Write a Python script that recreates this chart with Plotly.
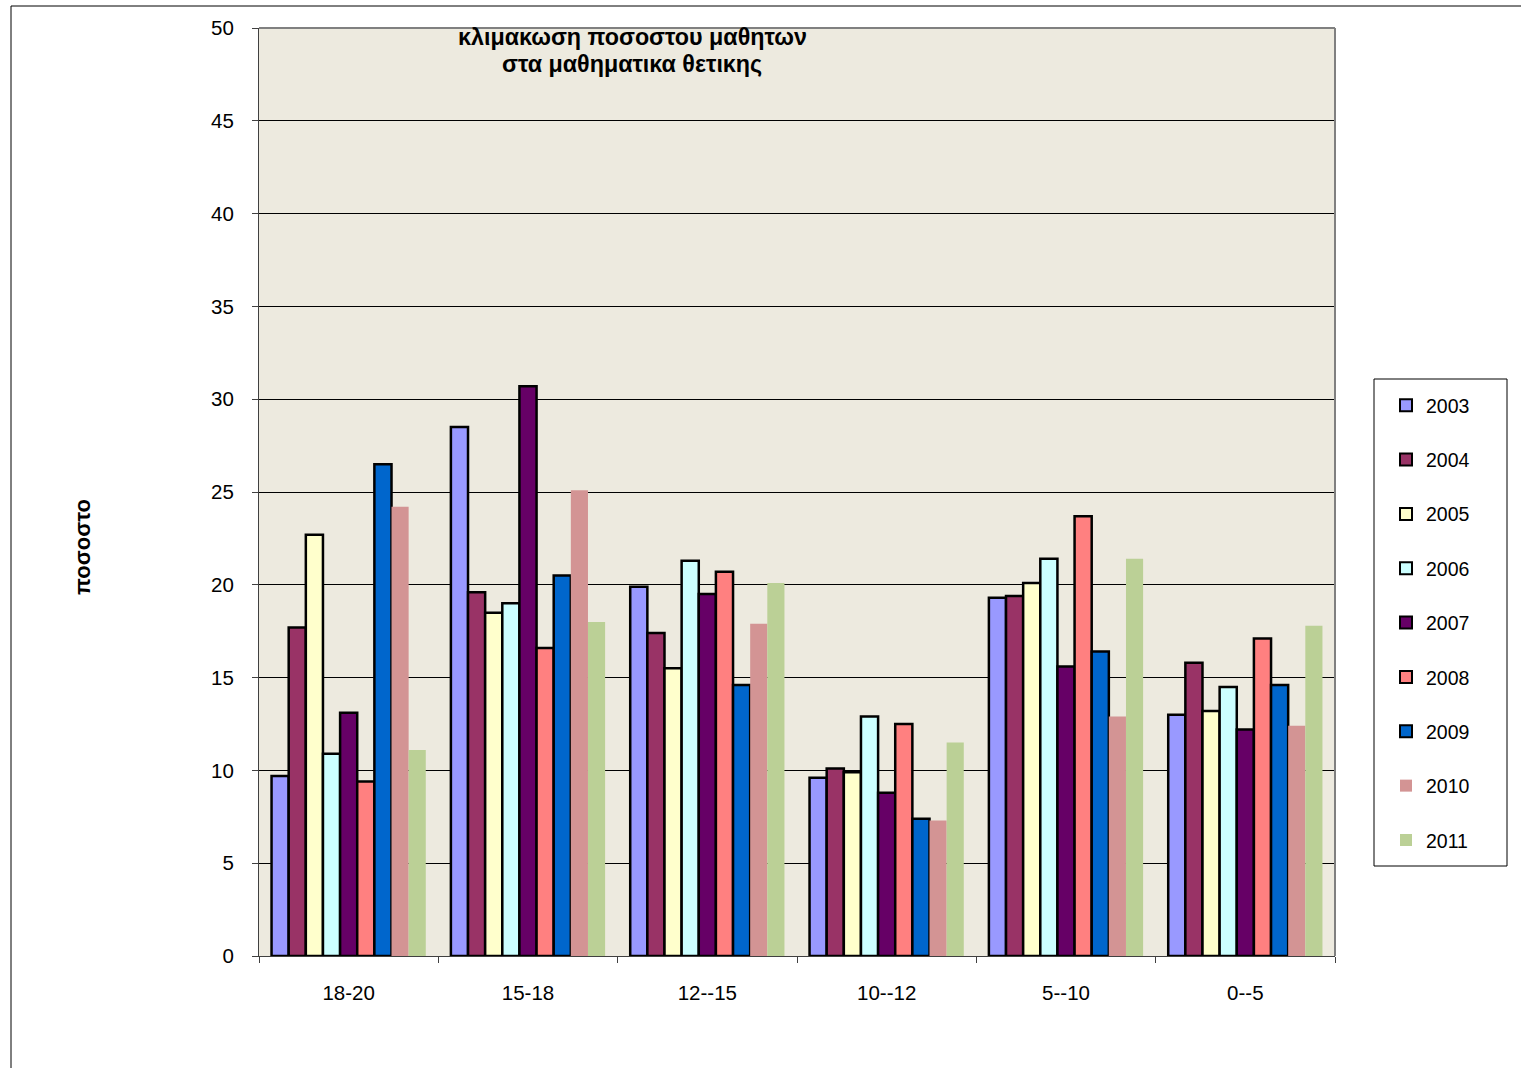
import plotly.graph_objects as go

categories = ["18-20", "15-18", "12--15", "10--12", "5--10", "0--5"]
years = ["2003", "2004", "2005", "2006", "2007", "2008", "2009", "2010", "2011"]
v2003 = [9.7, 28.5, 19.9, 9.6, 19.3, 13.0]
v2004 = [17.7, 19.6, 17.4, 10.1, 19.4, 15.8]
v2005 = [22.7, 18.5, 15.5, 9.9, 20.1, 13.2]
v2006 = [10.9, 19.0, 21.3, 12.9, 21.4, 14.5]
v2007 = [13.1, 30.7, 19.5, 8.8, 15.6, 12.2]
v2008 = [9.4, 16.6, 20.7, 12.5, 23.7, 17.1]
v2009 = [26.5, 20.5, 14.6, 7.4, 16.4, 14.6]
v2010 = [24.2, 25.1, 17.9, 7.3, 12.9, 12.4]
v2011 = [11.1, 18.0, 20.1, 11.5, 21.4, 17.8]
series = [v2003, v2004, v2005, v2006, v2007, v2008, v2009, v2010, v2011]
colors = ["#9999FF", "#993366", "#FFFFCC", "#CCFFFF", "#660066",
          "#FF8080", "#0066CC", "#D39494", "#BBD096"]
outlined = [True, True, True, True, True, True, True, False, False]

FONT = "Liberation Sans, Arial, sans-serif"

fig = go.Figure()
for i, (y, vals) in enumerate(zip(years, series)):
    fig.add_trace(go.Bar(
        x=categories, y=vals, name=y, legendgroup=y,
        marker=dict(color=colors[i],
                    line=dict(color="#000000", width=2.5 if outlined[i] else 0)),
    ))

W, H = 1521, 1068
L, R, T, B = 259, 1335, 28, 956
pw, ph = R - L, B - T

def px(x):
    return (x - L) / pw

def py(y):
    return (B - y) / ph

fig.update_layout(
    width=W, height=H,
    margin=dict(l=L, r=W - R, t=T, b=H - B, pad=0),
    paper_bgcolor="white",
    plot_bgcolor="#EDEADF",
    barmode="group", bargap=0.14, bargroupgap=0,
    font=dict(family=FONT, size=19, color="black"),
    showlegend=True,
    legend=dict(x=px(1386), y=py(386), xanchor="left", yanchor="top",
                bgcolor="rgba(0,0,0,0)", borderwidth=0,
                tracegroupgap=26, font=dict(size=19.5, family=FONT),
                itemsizing="constant"),
    xaxis=dict(type="category", showgrid=False, ticks="outside", ticklen=6,
               tickson="boundaries", tickcolor="#404040",
               showline=True, linecolor="#404040", linewidth=1,
               ticklabelstandoff=18,
               tickfont=dict(size=20.5, family=FONT)),
    yaxis=dict(range=[0, 50], dtick=5, showgrid=True, gridcolor="#000000",
               gridwidth=1, ticks="outside", ticklen=6, tickcolor="#404040",
               showline=True, linecolor="#404040", linewidth=1,
               ticklabelstandoff=14,
               zeroline=False, tickfont=dict(size=20.5, family=FONT)),
    shapes=[
        # outer chart frame
        dict(type="rect", xref="paper", yref="paper",
             x0=px(11), x1=px(1530), y0=py(1080), y1=py(6),
             line=dict(color="#000000", width=1), fillcolor="rgba(0,0,0,0)",
             layer="below"),
        # plot area top/right border
        dict(type="line", xref="paper", yref="paper", x0=0, x1=1, y0=1, y1=1,
             line=dict(color="#808080", width=2)),
        dict(type="line", xref="paper", yref="paper", x0=1, x1=1, y0=0, y1=1,
             line=dict(color="#808080", width=2)),
        # legend box
        dict(type="rect", xref="paper", yref="paper",
             x0=px(1374), x1=px(1507), y0=py(866), y1=py(379),
             line=dict(color="#000000", width=1), fillcolor="white"),
    ],
    annotations=[
        dict(text="<b>κλιμακωση ποσοστου μαθητων</b>",
             xref="paper", yref="paper", x=px(632), y=py(37),
             xanchor="center", yanchor="middle", showarrow=False,
             font=dict(size=23.3, family=FONT)),
        dict(text="<b>στα μαθηματικα θετικης</b>",
             xref="paper", yref="paper", x=px(632), y=py(64),
             xanchor="center", yanchor="middle", showarrow=False,
             font=dict(size=23.3, family=FONT)),
        dict(text="<b>ποσοστο</b>", textangle=-90,
             xref="paper", yref="paper", x=px(83), y=py(547),
             xanchor="center", yanchor="middle", showarrow=False,
             font=dict(size=22, family=FONT)),
    ],
)

fig.write_html("out.html", config={"displayModeBar": False},
               post_script="document.body.style.margin='0';")
